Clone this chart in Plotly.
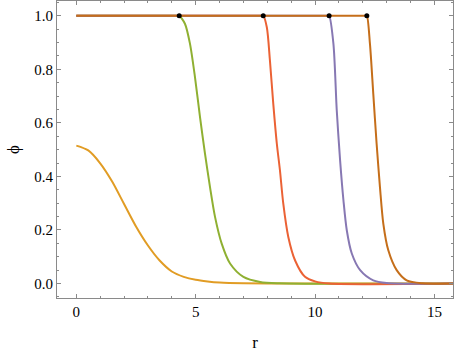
import plotly.graph_objects as go

# values
r_a   = [0, 0.5, 1.0, 1.5, 2.0, 2.5, 3.0, 3.5, 4.0, 4.5, 5.0, 5.5, 6.0, 7.0, 8.0, 16.0]
phi_a = [0.515, 0.497, 0.449, 0.381, 0.297, 0.213, 0.142, 0.085, 0.045, 0.025, 0.014, 0.008, 0.004, 0.001, 0.0, 0.0]

r_b   = [0, 4.25, 4.31, 4.55, 4.76, 4.97, 5.18, 5.39, 5.60, 5.81, 6.09, 6.44, 7.0, 7.7, 8.5, 16.0]
phi_b = [1.0, 1.0, 1.0, 0.970, 0.896, 0.771, 0.622, 0.485, 0.360, 0.249, 0.149, 0.075, 0.025, 0.006, 0.001, 0.0]

r_c   = [0, 7.78, 7.83, 7.98, 8.11, 8.25, 8.40, 8.53, 8.67, 8.88, 9.17, 9.58, 10.0, 10.6, 16.0]
phi_c = [1.0, 1.0, 1.0, 0.957, 0.833, 0.672, 0.522, 0.423, 0.298, 0.174, 0.085, 0.025, 0.008, 0.0, 0.0]

r_d   = [0, 10.54, 10.59, 10.77, 10.91, 11.05, 11.19, 11.33, 11.54, 11.89, 12.44, 13.0, 16.0]
phi_d = [1.0, 1.0, 1.0, 0.896, 0.647, 0.460, 0.311, 0.199, 0.112, 0.050, 0.012, 0.002, 0.0]

r_e   = [0, 12.12, 12.17, 12.30, 12.44, 12.58, 12.72, 12.86, 13.07, 13.42, 13.84, 14.5, 16.0]
phi_e = [1.0, 1.0, 1.0, 0.896, 0.709, 0.522, 0.360, 0.224, 0.124, 0.050, 0.012, 0.001, 0.0]

dot_r   = [4.31, 7.83, 10.59, 12.17]
dot_phi = [1.0, 1.0, 1.0, 1.0]

colors = ['#E19C24', '#8FB032', '#EB6235', '#8778B3', '#C56E1A']

fig = go.Figure()
for (rs, ps), c in zip([(r_a, phi_a), (r_b, phi_b), (r_c, phi_c), (r_d, phi_d), (r_e, phi_e)], colors):
    fig.add_trace(go.Scatter(
        x=rs, y=ps, mode='lines',
        line=dict(color=c, width=2, shape='spline', smoothing=0.8),
        showlegend=False, hoverinfo='skip',
    ))
fig.add_trace(go.Scatter(
    x=dot_r, y=dot_phi, mode='markers',
    marker=dict(color='black', size=5),
    showlegend=False, hoverinfo='skip',
))

frame = '#8a8a8a'
serif = 'Liberation Serif'
tickfont = dict(family=serif, size=15, color='black')
fig.update_layout(
    width=455, height=353,
    margin=dict(l=57, r=2, t=1, b=55),
    plot_bgcolor='white', paper_bgcolor='white',
    font=dict(family=serif, size=15, color='black'),
    xaxis=dict(
        range=[-0.81, 15.78], showgrid=False, zeroline=False, automargin=False,
        showline=True, linecolor=frame, linewidth=1, mirror='allticks',
        ticks='inside', ticklen=4, tickcolor=frame, tickfont=tickfont,
        tickvals=[0, 5, 10, 15],
        minor=dict(ticks='inside', ticklen=2, tickcolor=frame, dtick=1, tick0=0, showgrid=False),
        title=dict(text='r', font=dict(family=serif, size=17), standoff=17),
    ),
    yaxis=dict(
        range=[-0.054, 1.055], showgrid=False, zeroline=False, automargin=False,
        showline=True, linecolor=frame, linewidth=1, mirror='allticks',
        ticks='inside', ticklen=4, tickcolor=frame, tickfont=tickfont,
        tickvals=[0, 0.2, 0.4, 0.6, 0.8, 1.0], ticktext=['0.0', '0.2', '0.4', '0.6', '0.8', '1.0'],
        minor=dict(ticks='inside', ticklen=2, tickcolor=frame, dtick=0.05, tick0=0, showgrid=False),
        title=dict(text='ϕ', font=dict(family=serif, size=17), standoff=10),
    ),
)
# page body has a default 8px margin; drop it so the figure fills the window
fig.write_html(
    "out.html",
    config={'displayModeBar': False},
    post_script="document.body.style.margin='0';document.body.style.overflow='hidden';",
)
